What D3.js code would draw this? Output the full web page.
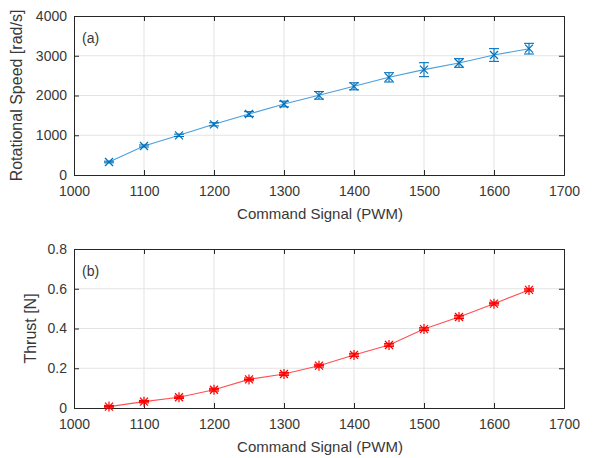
<!DOCTYPE html>
<html>
<head>
<meta charset="utf-8">
<script src="https://cdn.jsdelivr.net/npm/d3@7"></script>
<style>
  html, body { margin: 0; padding: 0; background: #fff; }
  svg { display: block; font-family: "Liberation Sans", Arial, sans-serif; }
</style>
</head>
<body>
<svg id="chart" width="599" height="458"></svg>
<script>
// Command signal (PWM) values shared by both panels
const pwm = [1050, 1100, 1150, 1200, 1250, 1300, 1350, 1400, 1450, 1500, 1550, 1600, 1650];

// Panel (a): mean rotational speed and its spread
const speed    = [327, 730, 998, 1275, 1535, 1786, 2004, 2231, 2457, 2650, 2818, 3019, 3178];
const speedErr = [20, 25, 30, 40, 59, 71, 96, 88, 117, 176, 109, 160, 134];

// Panel (b): mean thrust and its spread
const thrust    = [0.007, 0.032, 0.054, 0.092, 0.144, 0.171, 0.213, 0.267, 0.317, 0.397, 0.458, 0.525, 0.594];
const thrustErr = [0.006, 0.006, 0.006, 0.007, 0.007, 0.007, 0.007, 0.008, 0.007, 0.007, 0.008, 0.007, 0.006];

const xTicks = [1000, 1100, 1200, 1300, 1400, 1500, 1600, 1700];
const speedTicks = [0, 1000, 2000, 3000, 4000];
const thrustTicks = [0, 0.2, 0.4, 0.6, 0.8];

const svg = d3.select("#chart");
const left = 74, right = 564;
const textColor = "#383838";

function panel(opts) {
  const { top, bottom, yDomain, yTicks, yFmt, vals, errs, color, lineColor, marker, tag, yLabel, yLabelX } = opts;
  const x = d3.scaleLinear().domain([1000, 1700]).range([left, right]);
  const y = d3.scaleLinear().domain(yDomain).range([bottom, top]);
  const g = svg.append("g");

  // grid
  g.append("g").selectAll("line.vg").data(xTicks.slice(1, -1)).join("line")
    .attr("x1", d => x(d)).attr("x2", d => x(d)).attr("y1", top).attr("y2", bottom)
    .attr("stroke", "#e3e3e3").attr("stroke-width", 1);
  g.append("g").selectAll("line.hg").data(yTicks.slice(1, -1)).join("line")
    .attr("x1", left).attr("x2", right).attr("y1", d => y(d)).attr("y2", d => y(d))
    .attr("stroke", "#e3e3e3").attr("stroke-width", 1);

  // axes (ticks pointing inward, box around)
  const axColor = "#262626";
  const xb = g.append("g").attr("transform", `translate(0,${bottom})`)
    .call(d3.axisBottom(x).tickValues(xTicks).tickSize(-5).tickPadding(11).tickFormat(d3.format("d")));
  const xt = g.append("g").attr("transform", `translate(0,${top})`)
    .call(d3.axisTop(x).tickValues(xTicks).tickSize(-5).tickFormat(""));
  const yl = g.append("g").attr("transform", `translate(${left},0)`)
    .call(d3.axisLeft(y).tickValues(yTicks).tickSize(-5).tickPadding(7).tickFormat(yFmt));
  const yr = g.append("g").attr("transform", `translate(${right},0)`)
    .call(d3.axisRight(y).tickValues(yTicks).tickSize(-5).tickFormat(""));
  [xb, xt, yl, yr].forEach(a => {
    a.selectAll("path").attr("stroke", axColor);
    a.selectAll("line").attr("stroke", axColor);
    a.selectAll("text").attr("fill", textColor).attr("font-size", 14)
      .attr("font-family", "'Liberation Sans', Arial, sans-serif");
  });

  // line
  g.append("path").datum(pwm.map((p, i) => [p, vals[i]]))
    .attr("fill", "none").attr("stroke", lineColor).attr("stroke-width", 1.1)
    .attr("d", d3.line().x(d => x(d[0])).y(d => y(d[1])));

  // error bars
  const eb = g.append("g").attr("stroke", color).attr("stroke-width", 1.1);
  pwm.forEach((p, i) => {
    const cx = x(p), y1 = y(vals[i] + errs[i]), y2 = y(vals[i] - errs[i]);
    eb.append("line").attr("x1", cx).attr("x2", cx).attr("y1", y1).attr("y2", y2);
    eb.append("line").attr("x1", cx - 5).attr("x2", cx + 5).attr("y1", y1).attr("y2", y1);
    eb.append("line").attr("x1", cx - 5).attr("x2", cx + 5).attr("y1", y2).attr("y2", y2);
  });

  // markers
  const mk = g.append("g").attr("stroke", color).attr("stroke-width", 1.2).attr("fill", "none");
  pwm.forEach((p, i) => {
    const cx = x(p), cy = y(vals[i]), r = 4;
    mk.append("line").attr("x1", cx - r).attr("x2", cx + r).attr("y1", cy - r).attr("y2", cy + r);
    mk.append("line").attr("x1", cx - r).attr("x2", cx + r).attr("y1", cy + r).attr("y2", cy - r);
    if (marker === "star") {
      mk.append("line").attr("x1", cx - 5).attr("x2", cx + 5).attr("y1", cy).attr("y2", cy);
      mk.append("line").attr("x1", cx).attr("x2", cx).attr("y1", cy - 5).attr("y2", cy + 5);
    }
  });

  // panel tag
  g.append("text").attr("x", left + 8).attr("y", top + 27)
    .attr("font-size", 14).attr("fill", textColor).text(tag);

  // axis titles
  g.append("text").attr("x", (left + right) / 2 + 1).attr("y", bottom + 44)
    .attr("text-anchor", "middle").attr("font-size", 15).attr("fill", textColor)
    .text("Command Signal (PWM)");
  g.append("text")
    .attr("transform", `translate(${yLabelX},${(top + bottom) / 2}) rotate(-90)`)
    .attr("text-anchor", "middle").attr("font-size", 16).attr("fill", textColor)
    .text(yLabel);
}

panel({
  top: 16, bottom: 175, yDomain: [0, 4000], yTicks: speedTicks, yFmt: d3.format("d"),
  vals: speed, errs: speedErr, color: "#0072BD", lineColor: "#4a9fdc", marker: "x",
  tag: "(a)", yLabel: "Rotational Speed [rad/s]", yLabelX: 22
});

panel({
  top: 249, bottom: 408, yDomain: [0, 0.8], yTicks: thrustTicks, yFmt: d => d === 0 ? "0" : d3.format(".1f")(d),
  vals: thrust, errs: thrustErr, color: "#ff0000", lineColor: "#ff5050", marker: "star",
  tag: "(b)", yLabel: "Thrust [N]", yLabelX: 36
});
</script>
</body>
</html>
